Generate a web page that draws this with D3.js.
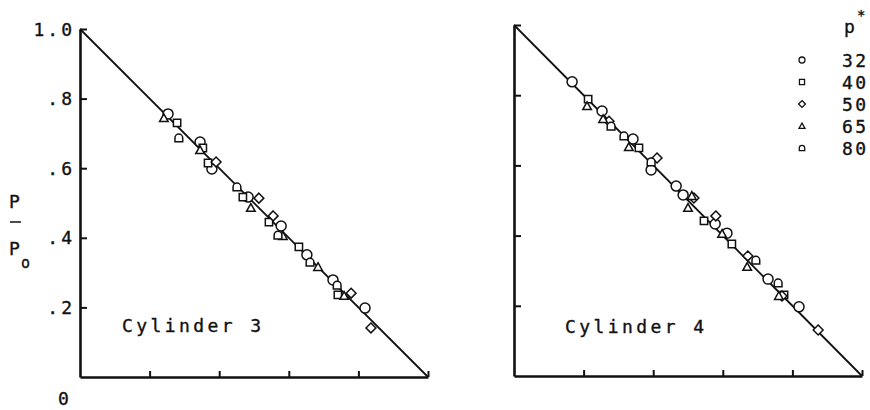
<!DOCTYPE html>
<html>
<head>
<meta charset="utf-8">
<script src="https://cdn.jsdelivr.net/npm/d3@7"></script>
<style>
  body { margin: 0; background: #fff; }
  text { font-family: "DejaVu Sans Mono", monospace; fill: #111; stroke: #111; stroke-width: 0.35; }
</style>
</head>
<body>
<div id="chart"></div>
<script>
// p* groups shown in the legend
var pStar = ["32", "40", "50", "65", "80"];
var shapes = ["circle", "square", "diamond", "triangle", "arch"];

// axis ticks (fraction of full scale)
var yTicks = [0.2, 0.4, 0.6, 0.8, 1.0];
var yTickLabels = [".2", ".4", ".6", ".8", "1.0"];
var xTicks = [0.2, 0.4, 0.6, 0.8, 1.0];

// straight line drawn through both panels
var fitLine = [[0, 1], [1, 0]];

// Cylinder 3 points, [x, P/Po]
var c3p32 = [[.253,.756],[.345,.675],[.379,.598],[.483,.517],[.578,.434],[.652,.351],[.727,.279],[.819,.198]];
var c3p40 = [[.279,.730],[.353,.658],[.368,.615],[.468,.517],[.543,.445],[.629,.374],[.741,.236]];
var c3p50 = [[.391,.618],[.514,.514],[.555,.463],[.779,.241],[.836,.141]];
var c3p65 = [[.241,.744],[.345,.652],[.491,.486],[.583,.405],[.684,.316],[.759,.233]];
var c3p80 = [[.284,.687],[.451,.546],[.569,.408],[.661,.330],[.739,.264]];

// Cylinder 4 points
var c4p32 = [[.167,.838],[.253,.755],[.342,.675],[.394,.587],[.466,.541],[.486,.516],[.578,.433],[.612,.407],[.730,.276],[.819,.197]];
var c4p40 = [[.213,.789],[.359,.650],[.546,.442],[.626,.376],[.776,.231]];
var c4p50 = [[.273,.726],[.411,.621],[.517,.507],[.580,.456],[.672,.342],[.770,.228],[.874,.131]];
var c4p65 = [[.210,.769],[.256,.732],[.330,.652],[.511,.513],[.500,.479],[.598,.405],[.670,.311],[.761,.228]];
var c4p80 = [[.279,.712],[.316,.684],[.394,.610],[.695,.330],[.759,.265]];

var width = 870, height = 410;

var svg = d3.select("#chart").append("svg")
    .attr("width", width)
    .attr("height", height);

// shape paths centred on 0,0
function shapePath(kind, s) {
    if (kind == "circle") {
        return "M" + s + ",0A" + s + "," + s + " 0 1 1 " + (-s) + ",0A" + s + "," + s + " 0 1 1 " + s + ",0Z";
    } else if (kind == "square") {
        var h = s * 0.85;
        return "M" + (-h) + "," + (-h) + "H" + h + "V" + h + "H" + (-h) + "Z";
    } else if (kind == "diamond") {
        var d = s * 1.15;
        return "M0," + (-d) + "L" + d + ",0L0," + d + "L" + (-d) + ",0Z";
    } else if (kind == "triangle") {
        return "M0," + (-s) + "L" + s + "," + (s * 0.8) + "L" + (-s) + "," + (s * 0.8) + "Z";
    }
    var a = s * 0.9;
    return "M" + (-a) + "," + a + "V0A" + a + "," + a + " 0 0 1 " + a + ",0V" + a + "Z";
}

var panels = [
    { title: "Cylinder 3", x0: 80, x1: 428, y0: 377, y1: 29, tx: 122, ty: 332,
      sets: [c3p32, c3p40, c3p50, c3p65, c3p80], labels: true },
    { title: "Cylinder 4", x0: 514, x1: 862, y0: 376, y1: 25, tx: 565, ty: 333,
      sets: [c4p32, c4p40, c4p50, c4p65, c4p80], labels: false }
];

panels.forEach(function (p) {
    var x = d3.scaleLinear().domain([0, 1]).range([p.x0, p.x1]);
    var y = d3.scaleLinear().domain([0, 1]).range([p.y0, p.y1]);

    // y axis, ticks pointing into the plot
    var yAxis = svg.append("g")
        .attr("transform", "translate(" + p.x0 + ",0)")
        .call(d3.axisRight(y).tickValues(yTicks).tickSize(7).tickSizeOuter(0).tickFormat(""));
    // x axis, ticks pointing up
    var xAxis = svg.append("g")
        .attr("transform", "translate(0," + p.y0 + ")")
        .call(d3.axisTop(x).tickValues(xTicks).tickSize(6).tickSizeOuter(0).tickFormat(""));
    [yAxis, xAxis].forEach(function (g) {
        g.select(".domain").attr("stroke", "#111").attr("stroke-width", 2.6);
        g.selectAll(".tick line").attr("stroke", "#111").attr("stroke-width", 2);
    });

    // fitted line
    svg.append("path")
        .datum(fitLine)
        .attr("fill", "none")
        .attr("stroke", "#111")
        .attr("stroke-width", 1.8)
        .attr("d", d3.line().x(function (d) { return x(d[0]); }).y(function (d) { return y(d[1]); }));

    // data points
    p.sets.forEach(function (set, i) {
        svg.append("g").selectAll("path")
            .data(set)
            .enter()
            .append("path")
            .attr("transform", function (d) { return "translate(" + x(d[0]) + "," + y(d[1]) + ")"; })
            .attr("d", shapePath(shapes[i], i == 0 ? 5 : 4.3))
            .attr("fill", "#fff")
            .attr("stroke", "#111")
            .attr("stroke-width", 1.5);
    });

    svg.append("text")
        .attr("x", p.tx)
        .attr("y", p.ty)
        .attr("font-size", 18)
        .attr("letter-spacing", 3.4)
        .text(p.title);

    if (p.labels) {
        svg.selectAll(".ylab")
            .data(yTicks)
            .enter()
            .append("text")
            .attr("class", "ylab")
            .attr("text-anchor", "end")
            .attr("x", p.x0 - 5)
            .attr("y", function (d) { return y(d) + 6.5; })
            .attr("font-size", 18)
            .attr("letter-spacing", 3)
            .text(function (d, i) { return yTickLabels[i]; });

        svg.append("text")
            .attr("x", x(0) - 22)
            .attr("y", y(0) + 28)
            .attr("font-size", 18)
            .text("0");
    }
});

// P / Po axis label
svg.append("text").attr("x", 9).attr("y", 208).attr("font-size", 18).text("P");
svg.append("line").attr("x1", 10).attr("x2", 21).attr("y1", 222).attr("y2", 222)
    .attr("stroke", "#111").attr("stroke-width", 1.5);
svg.append("text").attr("x", 9).attr("y", 255).attr("font-size", 18).text("P");
svg.append("text").attr("x", 21).attr("y", 268).attr("font-size", 15).text("o");

// legend
svg.append("text").attr("x", 844).attr("y", 33).attr("font-size", 18).text("p");
svg.append("text").attr("x", 857).attr("y", 20).attr("font-size", 14).text("*");

var legend = svg.selectAll(".leg")
    .data(pStar)
    .enter()
    .append("g")
    .attr("class", "leg")
    .attr("transform", function (d, i) { return "translate(0," + (60 + i * 22) + ")"; });

legend.append("path")
    .attr("transform", "translate(802,0)")
    .attr("d", function (d, i) { return shapePath(shapes[i], 3); })
    .attr("fill", "#fff")
    .attr("stroke", "#111")
    .attr("stroke-width", 1.3);

legend.append("text")
    .attr("x", 842)
    .attr("y", 6.5)
    .attr("font-size", 18)
    .attr("letter-spacing", 2.5)
    .text(function (d) { return d; });
</script>
</body>
</html>
